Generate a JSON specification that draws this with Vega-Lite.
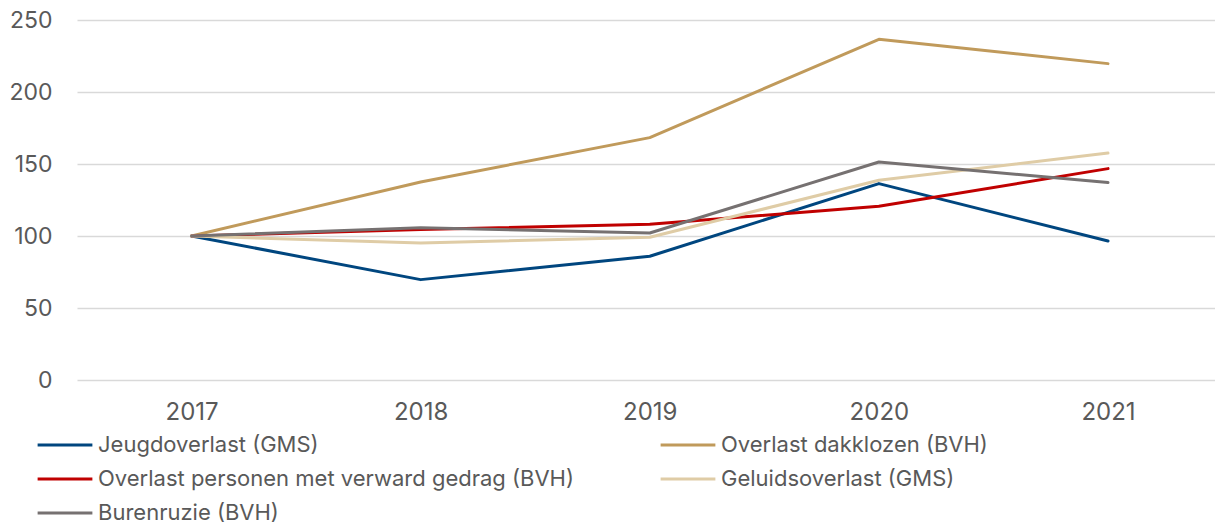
{
  "$schema": "https://vega.github.io/schema/vega-lite/v6.json",
  "autosize": "none",
  "padding": {"left": 77, "top": 20, "right": 0, "bottom": 145},
  "width": 1138,
  "height": 360,
  "background": "white",
  "data": {"values": [
    {"year": 2017, "series": "Jeugdoverlast (GMS)", "value": 100},
    {"year": 2018, "series": "Jeugdoverlast (GMS)", "value": 69.7},
    {"year": 2019, "series": "Jeugdoverlast (GMS)", "value": 85.9},
    {"year": 2020, "series": "Jeugdoverlast (GMS)", "value": 136.4},
    {"year": 2021, "series": "Jeugdoverlast (GMS)", "value": 96.5},
    {"year": 2017, "series": "Overlast dakklozen (BVH)", "value": 100},
    {"year": 2018, "series": "Overlast dakklozen (BVH)", "value": 137.5},
    {"year": 2019, "series": "Overlast dakklozen (BVH)", "value": 168.3},
    {"year": 2020, "series": "Overlast dakklozen (BVH)", "value": 236.6},
    {"year": 2021, "series": "Overlast dakklozen (BVH)", "value": 219.7},
    {"year": 2017, "series": "Overlast personen met verward gedrag (BVH)", "value": 100},
    {"year": 2018, "series": "Overlast personen met verward gedrag (BVH)", "value": 104.6},
    {"year": 2019, "series": "Overlast personen met verward gedrag (BVH)", "value": 108.1},
    {"year": 2020, "series": "Overlast personen met verward gedrag (BVH)", "value": 120.6},
    {"year": 2021, "series": "Overlast personen met verward gedrag (BVH)", "value": 146.8},
    {"year": 2017, "series": "Geluidsoverlast (GMS)", "value": 100},
    {"year": 2018, "series": "Geluidsoverlast (GMS)", "value": 95.1},
    {"year": 2019, "series": "Geluidsoverlast (GMS)", "value": 99.1},
    {"year": 2020, "series": "Geluidsoverlast (GMS)", "value": 138.7},
    {"year": 2021, "series": "Geluidsoverlast (GMS)", "value": 157.6},
    {"year": 2017, "series": "Burenruzie (BVH)", "value": 100},
    {"year": 2018, "series": "Burenruzie (BVH)", "value": 105.8},
    {"year": 2019, "series": "Burenruzie (BVH)", "value": 102.1},
    {"year": 2020, "series": "Burenruzie (BVH)", "value": 151.4},
    {"year": 2021, "series": "Burenruzie (BVH)", "value": 137.1}
  ]},
  "mark": {"type": "line", "strokeWidth": 3, "strokeCap": "round", "strokeJoin": "round"},
  "encoding": {
    "x": {
      "field": "year", "type": "quantitative", "title": null,
      "scale": {"domain": [2016.5, 2021.467], "nice": false, "zero": false},
      "axis": {"values": [2017, 2018, 2019, 2020, 2021], "format": "d", "labelAngle": 0, "ticks": false, "domain": false, "labelPadding": 20, "labelFontSize": 24, "labelColor": "#595959", "labelFont": "Inter", "grid": false}
    },
    "y": {
      "field": "value", "type": "quantitative", "title": null,
      "scale": {"domain": [0, 250], "nice": false},
      "axis": {"values": [0, 50, 100, 150, 200, 250], "ticks": false, "domain": false, "labelPadding": 25, "labelFontSize": 23, "labelColor": "#595959", "labelFont": "Inter", "gridColor": "#d9d9d9", "gridWidth": 1.5}
    },
    "color": {
      "field": "series", "type": "nominal", "title": null,
      "scale": {
        "domain": ["Jeugdoverlast (GMS)", "Overlast personen met verward gedrag (BVH)", "Burenruzie (BVH)", "Overlast dakklozen (BVH)", "Geluidsoverlast (GMS)"],
        "range": ["#00467f", "#c00000", "#767171", "#c09a5b", "#dfcca6"]
      },
      "legend": {
        "orient": "none", "legendX": -41, "legendY": 413, "columns": 2, "columnPadding": 85, "rowPadding": 10, "clipHeight": 24,
        "symbolType": "stroke", "symbolSize": 3000, "symbolStrokeWidth": 3, "labelOffset": 4,
        "labelFontSize": 22, "labelColor": "#595959", "labelFont": "Inter", "labelLimit": 600
      }
    }
  },
  "config": {"view": {"stroke": null}}
}
